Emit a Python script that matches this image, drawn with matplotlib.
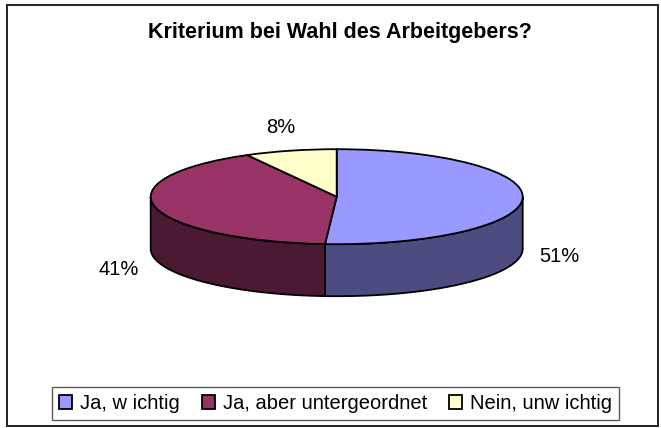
import numpy as np
import matplotlib
matplotlib.use("Agg")
import matplotlib.pyplot as plt
from matplotlib.patches import Rectangle

# data
labels = ["Ja, w ichtig", "Ja, aber untergeordnet", "Nein, unw ichtig"]
shares = [51, 41, 8]
top_colors = ["#9999FF", "#993366", "#FFFFCC"]
side_colors = ["#4C4C80", "#4C1933", "#80806A"]
title = "Kriterium bei Wahl des Arbeitgebers?"

W, H = 661, 428
plt.rcParams["font.family"] = ["Liberation Sans", "DejaVu Sans"]

fig = plt.figure(figsize=(W / 100, H / 100), dpi=100)
ax = fig.add_axes([0, 0, 1, 1])

# pie geometry in pixels: centre, half axes, depth
cx, cy = 336.7, 196.7
rx, ry = 186.0, 47.5
depth = 52.0 / ry

wedges, _ = ax.pie(shares, colors=top_colors, startangle=90, counterclock=False,
                   wedgeprops=dict(edgecolor="black", linewidth=1.3, zorder=3))

# side walls for the front half of each slice
for w, sc in zip(wedges, side_colors):
    t1, t2 = w.theta1, w.theta2
    for k in (-1, 0, 1):
        a = max(t1, -180 + 360 * k)
        b = min(t2, 360 * k)
        if b <= a:
            continue
        th = np.radians(np.linspace(a, b, 80))
        xs = np.concatenate([np.cos(th), np.cos(th[::-1])])
        ys = np.concatenate([np.sin(th), np.sin(th[::-1]) - depth])
        ax.fill(xs, ys, facecolor=sc, edgecolor="black", linewidth=1.3, zorder=2)

# percentage labels outside the slices
for w, s in zip(wedges, shares):
    mid = np.radians((w.theta1 + w.theta2) / 2)
    lx = 1.2 * np.cos(mid)
    ly = 1.5 * np.sin(mid)
    if np.sin(mid) < 0.3:
        ly -= depth * 1.1
    ax.text(lx, ly, f"{s}%", ha="center", va="center", fontsize=14.5, color="black")

ax.set_aspect("auto")
ax.set_xlim(-cx / rx, (W - cx) / rx)
ax.set_ylim(-(H - cy) / ry, cy / ry)
ax.axis("off")

fig.text(339.5 / W, 1 - 38 / H, title, ha="center", va="baseline",
         fontsize=15.5, fontweight="bold")

leg = fig.legend(wedges, labels, loc="center", bbox_to_anchor=(335.5 / W, 1 - 403.5 / H),
                 ncol=3, fontsize=14.5, frameon=True, fancybox=False,
                 handlelength=0.65, handleheight=0.65, handletextpad=0.4,
                 columnspacing=1.1, borderpad=0.35, borderaxespad=0)
leg.get_frame().set_edgecolor("#333333")
leg.get_frame().set_linewidth(1.0)

fig.add_artist(Rectangle((7 / W, 2 / H), 651 / W, 1 - 7 / H, transform=fig.transFigure,
                         fill=False, edgecolor="#222222", linewidth=1.4))

fig.savefig("out.png", dpi=100)
